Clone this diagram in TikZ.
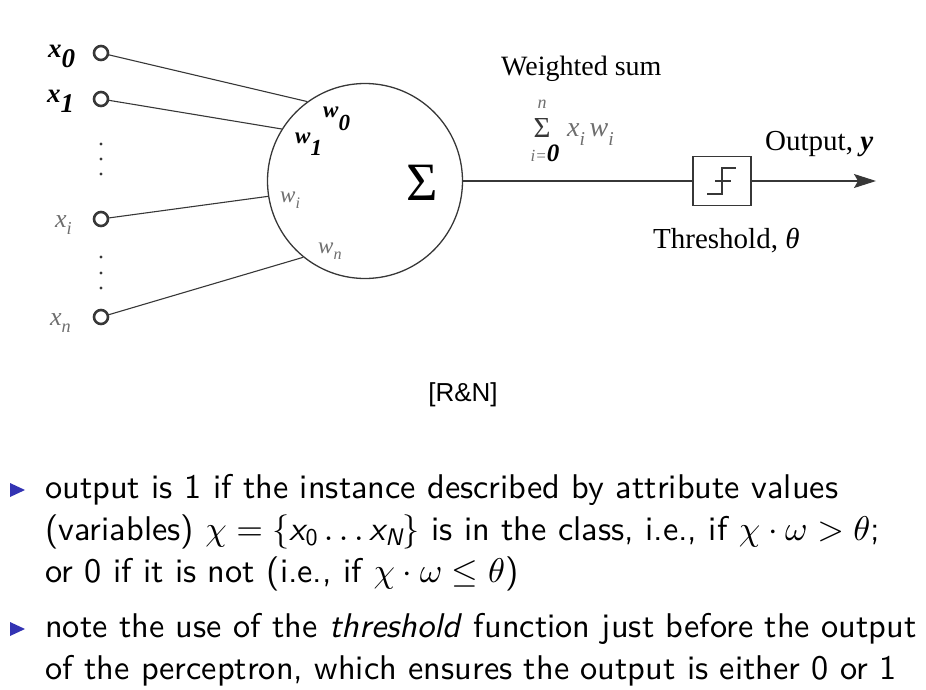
\documentclass[tikz,border=0pt]{standalone}
\usepackage{fontspec}
\usepackage{amsmath}
\usetikzlibrary{arrows.meta}
\DeclareFontShape{OT1}{cmr}{m}{n}{<->cmr10}{}
\DeclareFontShape{OML}{cmm}{m}{it}{<->cmmi10}{}
\DeclareFontShape{OML}{cmm}{b}{it}{<->cmmib10}{}
\DeclareFontShape{OMS}{cmsy}{m}{n}{<->cmsy10}{}
\DeclareFontShape{OMS}{cmsy}{b}{n}{<->cmbsy10}{}
\setsansfont{lmsans10-regular}[Extension=.otf,ItalicFont=lmsans10-oblique,SlantedFont=lmsans10-oblique,BoldFont=lmsans10-bold]
\newfontfamily\timesfont{Liberation Serif}
\newfontfamily\arialfont{Liberation Sans}
\definecolor{wiregray}{RGB}{55,55,55}
\definecolor{softgray}{RGB}{110,110,110}
\definecolor{beamerblue}{RGB}{51,51,179}
\newcommand{\figsize}[1]{\fontsize{#1}{#1}\selectfont}
\newcommand{\bsub}[3][0.4em]{{\bfseries\itshape #2\raisebox{-#1}{#3}}}
\newcommand{\gsub}[2]{{\itshape #1\raisebox{-0.3em}{\scalebox{0.7}{#2}}}}
\begin{document}
\begin{tikzpicture}[x=1pt,y=-1pt,
  inpt/.style={shape=circle,draw=wiregray,line width=2.6pt,minimum size=14pt,inner sep=0pt},
  wire/.style={draw=wiregray,line width=1.1pt},
  lbl/.style={inner sep=0pt,anchor=base west,font=\timesfont\figsize{28}},
  itemline/.style={inner sep=0pt,anchor=base west,font=\sffamily\figsize{34.3}}]
\useasboundingbox (0,0) rectangle (926,690);
% inputs
\node[inpt] (x0) at (101,53) {};
\node[inpt] (x1) at (101,99) {};
\node[inpt] (xi) at (101,219) {};
\node[inpt] (xn) at (101,317) {};
\foreach \y in {144,159,174,257,273,288}
  \fill[wiregray] (101,\y) circle (1.7pt);
\node[lbl,font=\timesfont\figsize{27}] (lx0) at (48,58) {\bsub[0.37em]{x}{0}};
\node[lbl,font=\timesfont\figsize{27}] (lx1) at (47,103) {\bsub[0.37em]{x}{1}};
\node[lbl,text=softgray,font=\timesfont\figsize{26}] (lxi) at (55,227) {\gsub{x}{i}};
\node[lbl,text=softgray,font=\timesfont\figsize{26}] (lxn) at (50,325) {\gsub{x}{n}};
% neuron
\node[shape=circle,draw=wiregray,line width=1.3pt,minimum size=195pt,inner sep=0pt] (neuron) at (365,181) {};
\node[font=\timesfont\figsize{54},inner sep=0pt,anchor=base] (sigma) at (422,200) {Σ};
\node[lbl,font=\timesfont\figsize{23}] (lw0) at (323,118) {\bsub[0.55em]{w}{0}};
\node[lbl,font=\timesfont\figsize{23}] (lw1) at (295,143) {\bsub[0.55em]{w}{1}};
\node[lbl,text=softgray,font=\timesfont\figsize{23}] (lwi) at (280,202) {\gsub{w}{i}};
\node[lbl,text=softgray,font=\timesfont\figsize{23}] (lwn) at (318,253) {\gsub{w}{n}};
\draw[wire] (x0) -- (neuron.126);
\draw[wire] (x1) -- (neuron.148);
\draw[wire] (xi) -- (neuron.189);
\draw[wire] (xn) -- (neuron.231);
% weighted sum
\node[lbl] (wsum) at (501,76) {Weighted sum};
\node[font=\timesfont\figsize{29},inner sep=0pt,anchor=base,text=wiregray] (sumsig) at (542,138) {Σ};
\node[font=\timesfont\itshape\figsize{18},inner sep=0pt,anchor=base,text=softgray] (sumtop) at (542,109) {n};
\node[font=\timesfont\figsize{17},inner sep=0pt,anchor=base] (sumbot) at (545,161) {\textcolor{softgray}{\itshape i=}{\figsize{25}\bfseries\itshape 0}};
\node[lbl,text=softgray,font=\timesfont\figsize{28}] (sumterm) at (567,137) {\gsub{x}{i}\,\gsub{w}{i}};
% threshold and output
\node[draw=wiregray,line width=1.1pt,minimum width=58pt,minimum height=49pt,inner sep=0pt] (thresh) at (722,181) {};
\draw[wiregray,line width=1.1pt,shift={(thresh.center)}] (-15,13) -- (0,13) -- (0,-13) -- (14,-13) (-7,0) -- (9,0);
\draw[wire] (neuron.east) -- (thresh.west);
\coordinate (yout) at (876,181);
\draw[wire,-{Stealth[length=22pt,width=14pt,inset=4pt]}] (thresh.east) -- (yout);
\node[lbl,font=\timesfont\figsize{29}] (outlbl) at (765,150) {Output, {\bfseries\itshape y}};
\node[lbl,font=\timesfont\figsize{29}] (thlbl) at (653,248) {Threshold, {\itshape θ}};
\node[font=\arialfont\figsize{26},inner sep=0pt,anchor=base] (cite) at (463,401) {[R\&N]};
% bullet text
\fill[beamerblue] (10,483) -- (25,490) -- (10,497) -- cycle;
\node[itemline] (l1) at (45,498) {output is 1 if the instance described by attribute values};
\node[itemline] (l2) at (45,540) {(variables) $\chi=\{\text{\slshape x}_{\text{0}}\ldots\text{\slshape x}_{\text{\slshape N}}\}$ is in the class, i.e., if $\chi\cdot\omega>\theta$;};
\node[itemline] (l3) at (45,582) {or 0 if it is not (i.e., if $\chi\cdot\omega\leq\theta$)};
\fill[beamerblue] (10,622) -- (25,629) -- (10,636) -- cycle;
\node[itemline] (l4) at (45,637) {note the use of the \textit{threshold} function just before the output};
\node[itemline] (l5) at (45,679) {of the perceptron, which ensures the output is either 0 or 1};
\end{tikzpicture}
\end{document}
